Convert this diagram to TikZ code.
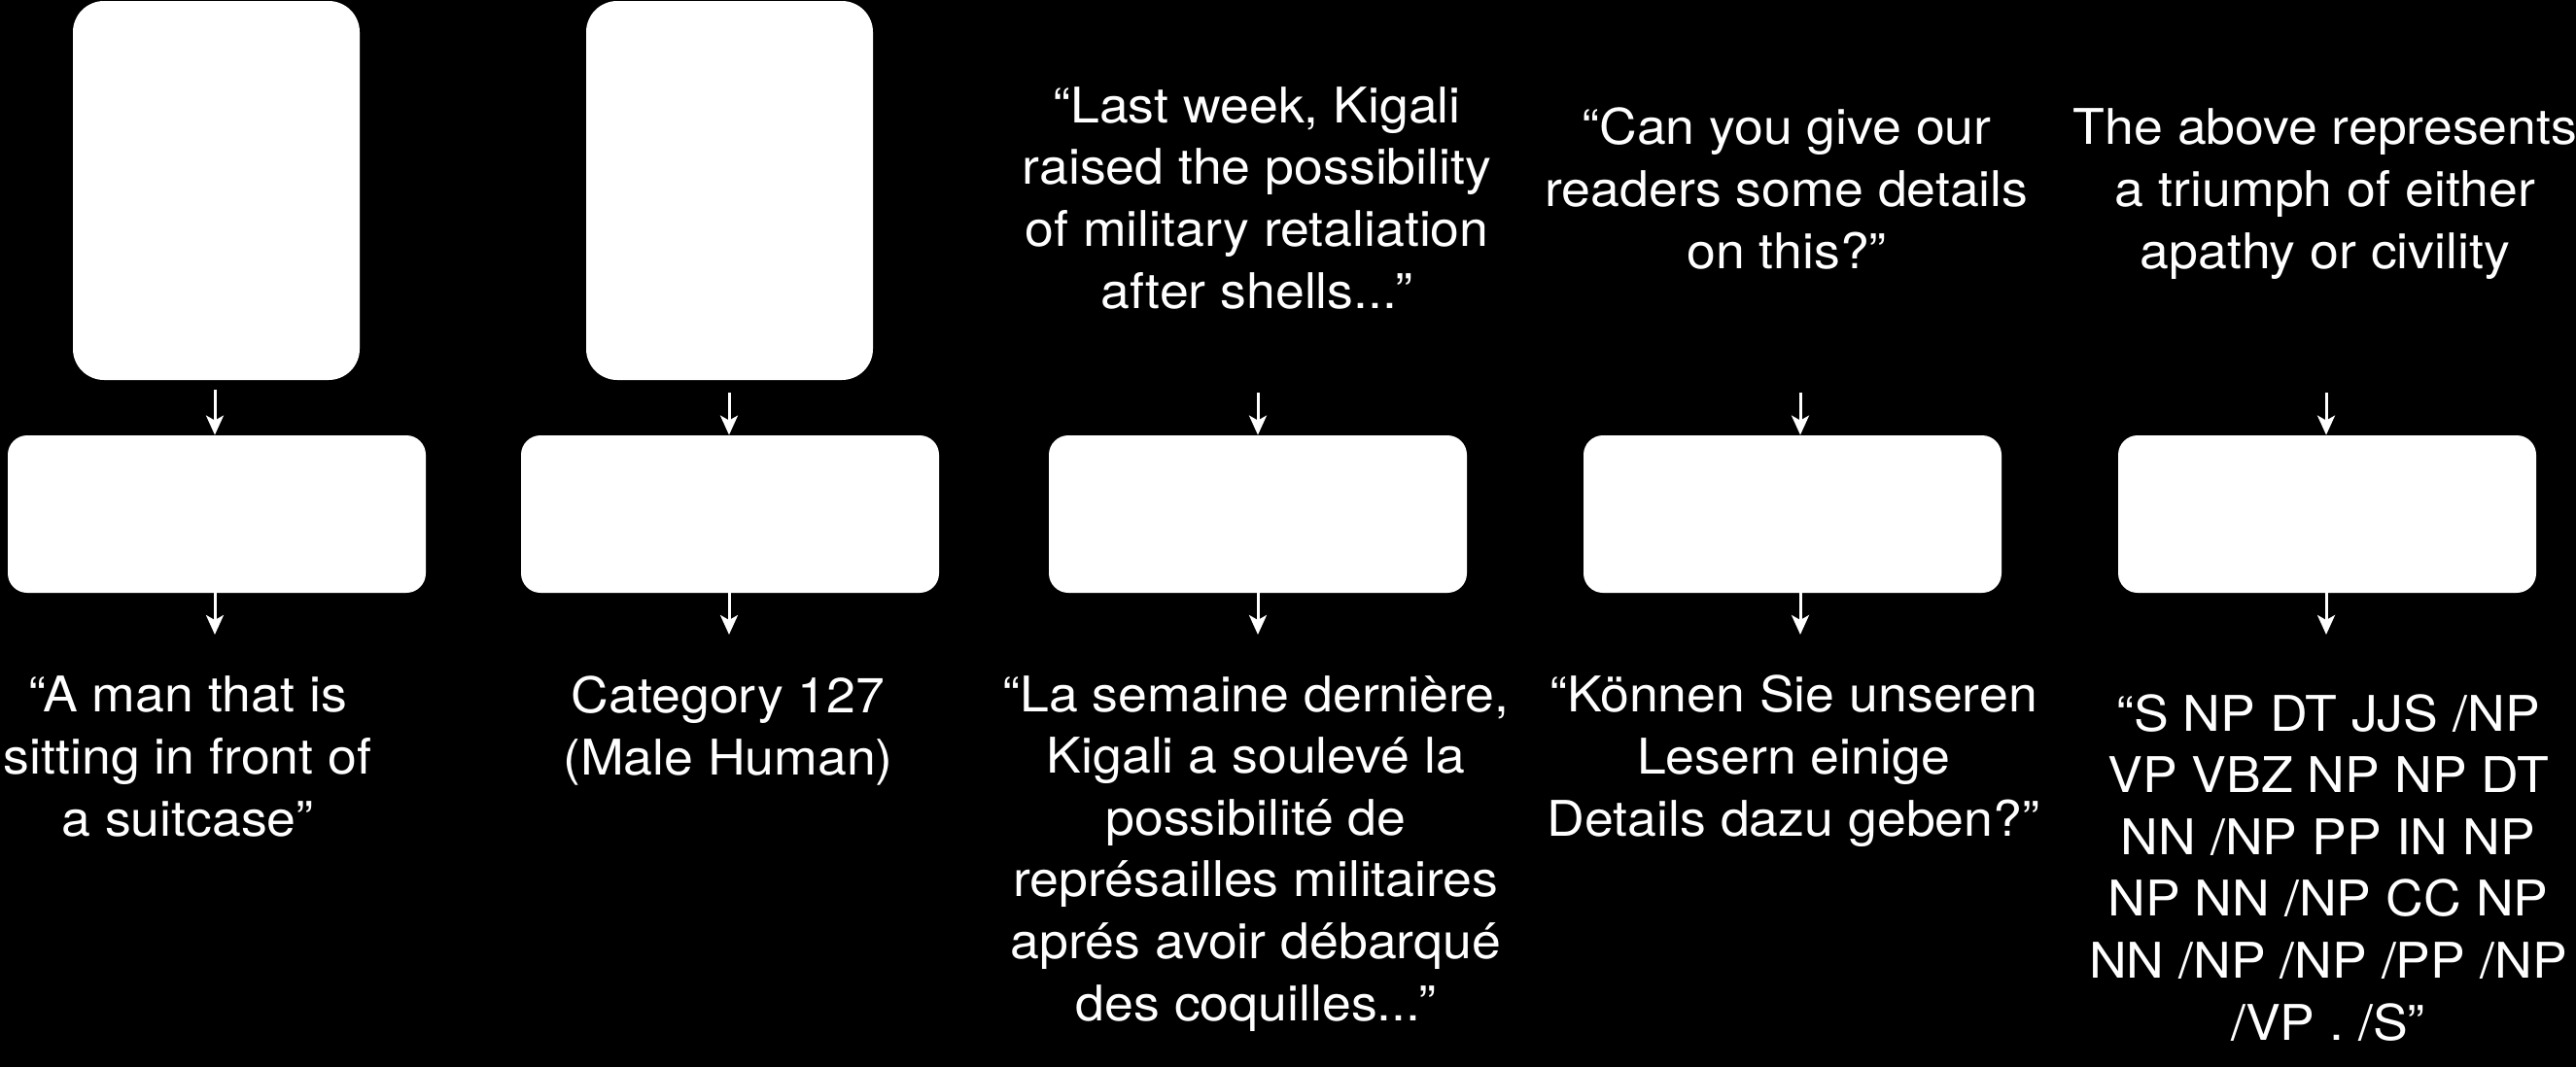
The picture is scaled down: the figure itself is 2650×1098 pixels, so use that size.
\documentclass[tikz,border=0pt]{standalone}
\usepackage{fontspec}
\setmainfont[FakeStretch=1.06]{TeX Gyre Heros}
\usetikzlibrary{arrows.meta}
\tikzset{
  bigbox/.style={fill=white, draw=none, rounded corners=16pt, minimum width=147.5pt, minimum height=195pt, inner sep=0pt},
  midbox/.style={fill=white, draw=none, rounded corners=10pt, minimum width=215pt, minimum height=81pt, inner sep=0pt},
  txt/.style={text=white, align=center, anchor=base, inner sep=0pt, font=\fontsize{25.3pt}{31.8pt}\selectfont},
  arr/.style={draw=white, line width=1.5pt, -{Stealth[length=10pt,width=9pt,inset=2.5pt]}}
}
\begin{document}
\begin{tikzpicture}[x=0.5pt,y=-0.5pt]
\fill[black] (0,0) rectangle (2650,1098);
\useasboundingbox (0,0) rectangle (2650,1098);

% top boxes
\node[bigbox] (t1) at (222.5,196) {};
\node[bigbox] (t2) at (750.5,196) {};

% input texts (anchor = baseline of last line)
\node[txt] (in3) at (1293,317) {“Last week, Kigali\\raised the possibility\\of military retaliation\\after shells...”};
\node[txt] (in4) at (1838,276) {“Can you give our\\readers some details\\on this?”};
\node[txt] (in5) at (2392,276) {The above represents\\a triumph of either\\apathy or civility};

% middle boxes
\node[midbox] (m1) at (223,529) {};
\node[midbox] (m2) at (751,529) {};
\node[midbox] (m3) at (1294,529) {};
\node[midbox] (m4) at (1844,529) {};
\node[midbox] (m5) at (2394,529) {};

% output texts (anchor = baseline of last line)
\node[txt] (o1) at (193,860) {“A man that is\\sitting in front of\\a suitcase”};
\node[txt] (o2) at (749,797) {Category 127\\(Male Human)};
\node[txt] (o3) at (1292,1050) {“La semaine dernière,\\Kigali a soulevé la\\possibilité de\\représailles militaires\\aprés avoir débarqué\\des coquilles...”};
\node[txt] (o4) at (1845,860) {“Können Sie unseren\\Lesern einige\\Details dazu geben?”};
\node[txt] (o5) at (2395,1070) {“S NP DT JJS /NP\\VP VBZ NP NP DT\\NN /NP PP IN NP\\NP NN /NP CC NP\\NN /NP /NP /PP /NP\\/VP . /S”};

% arrow anchor coordinates
\coordinate (a1) at (221,401);
\coordinate (a2) at (750,404);
\coordinate (a3) at (1294,404);
\coordinate (a4) at (1852,404);
\coordinate (a5) at (2393,404);
\coordinate (e1) at (221,653);
\coordinate (e2) at (750,653);
\coordinate (e3) at (1294,653);
\coordinate (e4) at (1852,653);
\coordinate (e5) at (2393,653);

% top arrows
\draw[arr] (a1) -- (a1 |- m1.north);
\draw[arr] (a2) -- (a2 |- m2.north);
\draw[arr] (a3) -- (a3 |- m3.north);
\draw[arr] (a4) -- (a4 |- m4.north);
\draw[arr] (a5) -- (a5 |- m5.north);

% bottom arrows
\draw[arr] (e1 |- m1.south) -- (e1);
\draw[arr] (e2 |- m2.south) -- (e2);
\draw[arr] (e3 |- m3.south) -- (e3);
\draw[arr] (e4 |- m4.south) -- (e4);
\draw[arr] (e5 |- m5.south) -- (e5);
\end{tikzpicture}
\end{document}
